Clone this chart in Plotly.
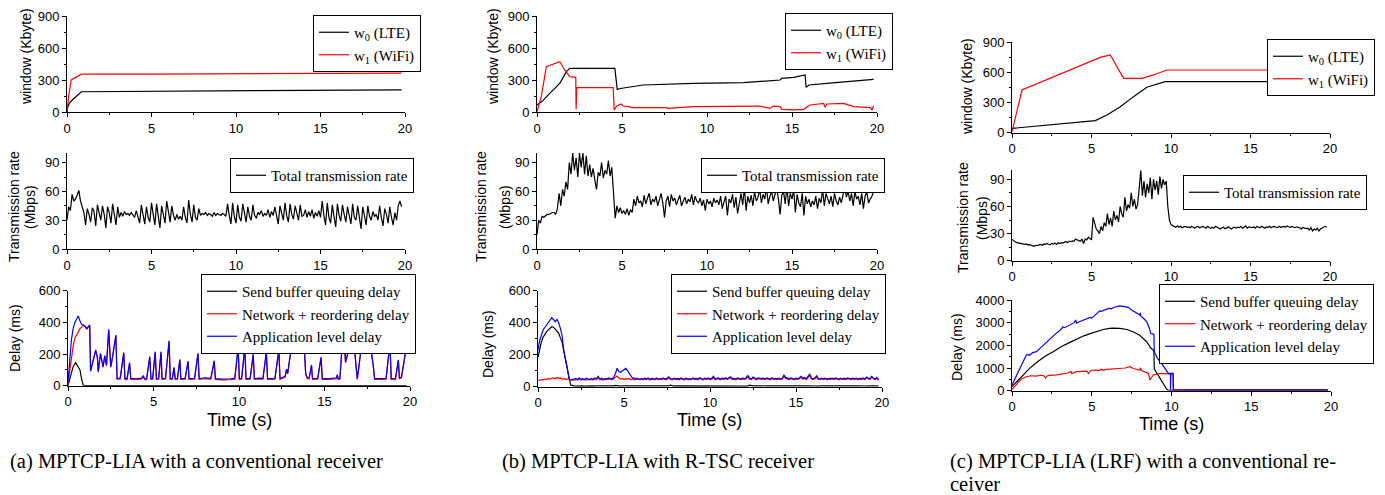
import plotly.graph_objects as go

W, H = 1385, 495

# ---------------- data ----------------
# (a) MPTCP-LIA, conventional receiver
a_w0_t = [0, 0.05, 0.15, 0.3, 0.85, 5, 10, 15, 19.8]
a_w0_v = [0, 50, 85, 110, 190, 193, 198, 204, 208]
a_w1_t = [0, 0.1, 0.25, 0.5, 0.85, 5, 10, 15, 19.8]
a_w1_v = [0, 150, 300, 325, 355, 356, 357, 360, 365]

a_rate = [30, 44, 40, 57, 50, 52, 56, 61, 50, 44, 38,
          25, 42, 36, 28, 43, 39, 24, 46, 38, 30,
          45, 36, 22, 44, 38, 27, 47, 35, 25, 44,
          33, 38, 34, 39, 36, 37, 35, 38, 36, 33,
          40, 34, 27, 46, 35, 26, 44, 33, 28, 48,
          36, 25, 47, 34, 22, 45, 37, 27, 50, 36,
          28, 45, 35, 30, 36, 31, 34, 30, 44, 33,
          27, 51, 36, 28, 46, 33, 30, 42, 35, 37,
          36, 38, 35, 37, 36, 34, 38, 35, 37, 36,
          35, 37, 36, 34, 47, 35, 26, 48, 34, 27,
          46, 33, 29, 47, 36, 28, 44, 34, 30, 46,
          35, 32, 38, 36, 40, 34, 37, 35, 41, 33,
          39, 35, 44, 33, 26, 45, 36, 30, 48, 35,
          28, 47, 36, 31, 45, 37, 30, 46, 34, 35,
          41, 33, 39, 34, 41, 32, 38, 34, 40, 33,
          50, 35, 25, 48, 33, 27, 46, 34, 23, 47,
          35, 29, 46, 36, 28, 44, 35, 26, 47, 33,
          30, 45, 33, 21, 44, 35, 25, 45, 34, 30,
          39, 34, 36, 30, 45, 33, 24, 42, 36, 27,
          44, 33, 25, 38, 30, 45, 50, 44]

a_snd_t = [0, 0.1, 0.2, 0.3, 0.45, 0.6, 0.7, 0.8, 0.9, 19.8]
a_snd_v = [0, 40, 80, 120, 145, 120, 100, 40, 0, 0]

a_d_t = [0.0, 0.1, 0.2, 0.3, 0.4, 0.5, 0.6, 0.7, 0.8, 0.9,
         1.0, 1.1, 1.2, 1.27, 1.32, 1.45, 1.62, 1.72, 1.77, 1.9,
         1.97, 2.05, 2.15, 2.25, 2.38, 2.5, 2.6, 2.8, 2.87, 3.05,
         3.26, 3.33, 3.45, 3.6, 3.67, 4.0, 4.3, 4.4, 4.5, 4.6,
         4.78, 4.85, 4.95, 5.1, 5.17, 5.3, 5.44, 5.5, 5.7, 5.91,
         5.98, 6.1, 6.2, 6.27, 6.4, 6.54, 6.6, 6.85, 7.02, 7.08,
         7.4, 7.6, 7.67, 8.0, 8.35, 8.55, 8.62, 9.0, 9.5, 9.75,
         9.95, 10.02, 10.15, 10.34, 10.41, 10.65, 10.83, 10.9, 11.2, 11.4,
         11.6, 11.67, 12.1, 12.33, 12.4, 12.7, 12.78, 12.85, 12.98, 13.33,
         13.4, 13.56, 13.66, 13.76, 13.9, 14.0, 14.1, 14.24, 14.3, 14.6,
         14.8, 14.87, 15.3, 15.7, 15.75, 15.8, 15.9, 16.1, 16.23, 16.45,
         16.68, 16.84, 16.92, 17.1, 17.27, 17.37, 17.56, 17.85, 17.93, 18.4,
         18.6, 18.83, 18.9, 19.15, 19.32, 19.38, 19.5, 19.77]
a_app_v = [20, 180, 290, 360, 400, 420, 440, 410, 385, 385,
           370, 360, 375, 385, 95, 160, 226, 180, 90, 205,
           160, 120, 190, 130, 357, 120, 180, 320, 46, 48,
           209, 46, 44, 146, 46, 44, 48, 62, 42, 46,
           184, 45, 46, 215, 45, 46, 215, 45, 47, 283,
           45, 46, 116, 45, 46, 167, 45, 46, 156, 45,
           46, 205, 45, 50, 46, 158, 45, 42, 44, 46,
           241, 45, 46, 243, 45, 46, 200, 45, 48, 46,
           215, 45, 46, 226, 45, 60, 105, 80, 184, 363,
           320, 320, 226, 353, 78, 50, 48, 131, 45, 46,
           180, 45, 45, 50, 70, 45, 46, 368, 152, 250,
           342, 131, 45, 200, 353, 240, 353, 131, 45, 45,
           46, 272, 45, 46, 163, 50, 55, 236]
a_net_v = [10, 100, 180, 250, 300, 320, 345, 360, 370, 380,
           375, 360, 372, 380, 90, 155, 220, 175, 85, 200,
           155, 115, 185, 125, 350, 115, 175, 315, 40, 42,
           204, 40, 39, 140, 40, 39, 43, 56, 37, 40,
           178, 40, 41, 210, 40, 41, 210, 40, 42, 278,
           40, 41, 110, 40, 41, 162, 40, 41, 150, 40,
           41, 200, 40, 44, 41, 152, 40, 37, 39, 41,
           236, 40, 41, 238, 40, 41, 195, 40, 43, 41,
           210, 40, 41, 220, 40, 55, 100, 75, 178, 355,
           312, 315, 220, 345, 72, 44, 43, 125, 40, 41,
           175, 40, 40, 45, 64, 40, 41, 360, 145, 245,
           335, 125, 40, 195, 345, 235, 345, 125, 40, 40,
           41, 265, 40, 41, 158, 45, 50, 230]

# (b) MPTCP-LIA, R-TSC receiver
b_w0_t = [0, 0.3, 0.75, 1.34, 1.73, 1.93, 4.58, 4.72, 4.9, 6.25, 9.2, 12.14, 14.3, 14.4,
          15.1, 15.77, 15.83, 16.0, 17.05, 19.8]
b_w0_v = [66, 100, 175, 269, 378, 409, 409, 212, 220, 253, 269, 275, 300, 315,
          325, 347, 231, 253, 269, 306]
b_w1_t = [0, 0.25, 0.55, 1.34, 1.63, 1.93, 2.28, 2.3, 2.34, 4.48, 4.54, 4.68, 4.97, 5.07,
          5.46, 5.56, 7.62, 7.7, 9.2, 13.1, 13.7, 13.9, 14.3, 14.4, 15.1, 15.7, 15.9,
          16.07, 16.86, 16.95, 17.05, 18.03, 18.62, 19.6, 19.7, 19.8]
b_w1_v = [0, 144, 425, 472, 394, 331, 325, 25, 228, 228, 19, 56, 75, 56,
          50, 41, 41, 35, 50, 56, 34, 56, 50, 25, 19, 25, 50,
          66, 81, 44, 75, 81, 50, 41, 19, 56]

b_rate = [15, 30, 27, 34, 33, 35, 36, 36, 37, 38, 38,
          36, 42, 58, 45, 62, 55, 70, 62, 90, 78,
          100, 82, 95, 75, 100, 85, 100, 78, 97, 76,
          88, 75, 84, 72, 62, 80, 76, 90, 74, 82,
          78, 92, 76, 85, 60, 32, 45, 38, 43, 37,
          40, 36, 42, 35, 41, 38, 52, 45, 55, 48,
          50, 44, 56, 47, 53, 58, 46, 52, 49, 55,
          45, 51, 58, 48, 33, 50, 55, 44, 57, 50,
          53, 46, 52, 56, 45, 50, 54, 47, 52, 49,
          57, 46, 55, 50, 48, 53, 45, 51, 40, 52,
          47, 50, 44, 53, 48, 51, 46, 55, 42, 49,
          55, 35, 52, 48, 57, 43, 54, 37, 50, 58,
          46, 64, 40, 55, 48, 56, 45, 60, 50, 54,
          62, 48, 57, 52, 65, 47, 55, 60, 50, 58,
          64, 52, 36, 56, 60, 47, 65, 45, 58, 52,
          62, 38, 57, 48, 44, 58, 35, 55, 47, 52,
          44, 50, 46, 55, 42, 53, 48, 62, 45, 58,
          52, 47, 55, 44, 58, 50, 46, 54, 48, 57,
          65, 54, 60, 50, 58, 45, 60, 52, 55, 46,
          58, 42, 55, 60, 48, 52, 55, 60]

b_snd = [183, 240, 281, 310, 330, 344, 355, 368, 375, 372, 360,
         350, 335, 305, 281, 220, 160, 125, 60, 10, 5,
         5, 4, 5, 5, 6, 5, 4, 5, 5, 4,
         5, 5, 4, 6, 5, 5, 4, 5, 6, 5,
         5, 4, 5, 5, 8, 6, 5, 4, 5, 5,
         6, 5, 4, 5, 5, 4, 5, 6, 5, 5,
         5, 4, 5, 5, 6, 5, 5, 4, 5, 5,
         4, 5, 5, 6, 5, 5, 10, 5, 4, 5,
         5, 5, 4, 6, 5, 5, 4, 5, 5, 6,
         5, 4, 5, 5, 6, 5, 4, 5, 5, 5,
         5, 6, 5, 4, 5, 5, 6, 5, 4, 5,
         5, 5, 4, 6, 5, 5, 4, 5, 6, 5,
         5, 4, 10, 6, 5, 5, 4, 5, 5, 6,
         5, 5, 4, 5, 6, 5, 5, 4, 5, 5,
         6, 5, 4, 5, 5, 6, 5, 4, 5, 5,
         5, 6, 5, 4, 5, 5, 6, 5, 4, 5,
         5, 5, 4, 6, 5, 5, 4, 5, 5, 6,
         5, 4, 5, 5, 6, 5, 4, 5, 5, 5,
         6, 5, 4, 5, 5, 6, 5, 4, 5, 5,
         5, 4, 5, 6, 5, 5, 4, 5]
b_net = [42, 40, 45, 43, 48, 46, 50, 47, 52, 55, 50,
         58, 52, 55, 48, 50, 46, 49, 45, 42, 44,
         40, 45, 43, 47, 42, 46, 44, 41, 45, 43,
         46, 42, 48, 44, 55, 43, 46, 42, 47, 44,
         45, 48, 43, 50, 62, 67, 55, 48, 52, 46,
         50, 47, 52, 45, 48, 43, 46, 49, 44, 47,
         43, 48, 45, 50, 42, 47, 45, 44, 49, 43,
         47, 44, 50, 43, 46, 55, 45, 42, 48, 45,
         47, 43, 50, 45, 42, 48, 44, 46, 43, 50,
         45, 47, 43, 51, 44, 42, 48, 45, 50, 43,
         47, 58, 44, 46, 50, 43, 48, 45, 51, 44,
         49, 56, 45, 47, 43, 50, 46, 44, 48, 45,
         51, 62, 47, 44, 54, 46, 43, 50, 47, 45,
         48, 44, 50, 46, 43, 51, 45, 47, 44, 49,
         45, 48, 64, 52, 47, 44, 50, 46, 43, 48,
         45, 51, 58, 47, 52, 44, 56, 70, 48, 45,
         50, 60, 46, 44, 49, 45, 48, 43, 47, 45,
         48, 44, 50, 46, 43, 49, 45, 47, 44, 50,
         46, 44, 48, 45, 49, 43, 47, 45, 50, 44,
         54, 47, 45, 58, 50, 43, 52, 40]
b_app = [229, 290, 323, 355, 370, 385, 400, 415, 431, 420, 406,
         421, 400, 365, 320, 229, 180, 120, 52, 42, 45,
         48, 52, 44, 55, 47, 50, 45, 53, 49, 46,
         52, 47, 55, 50, 65, 48, 53, 46, 51, 49,
         55, 50, 48, 60, 80, 115, 95, 90, 100, 104,
         115, 100, 85, 73, 52, 55, 48, 52, 46, 50,
         47, 53, 49, 55, 46, 52, 50, 48, 54, 47,
         51, 49, 55, 48, 52, 62, 50, 47, 53, 49,
         52, 48, 55, 50, 46, 53, 49, 51, 47, 55,
         50, 52, 48, 56, 49, 47, 53, 50, 55, 48,
         52, 65, 49, 51, 55, 48, 53, 50, 56, 49,
         54, 62, 50, 52, 48, 55, 51, 49, 53, 50,
         56, 70, 52, 49, 60, 51, 48, 55, 52, 50,
         53, 49, 55, 51, 48, 56, 50, 52, 49, 54,
         50, 53, 72, 58, 52, 49, 55, 51, 48, 53,
         50, 56, 65, 52, 58, 49, 62, 80, 53, 50,
         55, 68, 51, 49, 54, 50, 53, 48, 52, 50,
         53, 49, 55, 51, 48, 54, 50, 52, 49, 55,
         51, 49, 53, 50, 54, 48, 52, 50, 55, 49,
         60, 52, 50, 65, 55, 48, 58, 45]

# (c) MPTCP-LIA (LRF), conventional receiver
c_w0_t = [0, 1, 2, 3, 4, 5.24, 5.97, 6.81, 7.64, 8.48, 9.63, 19.8]
c_w0_v = [43, 58, 74, 90, 104, 120, 176, 259, 359, 452, 508, 508]
c_w1_t = [0, 0.63, 5.55, 6.18, 7.02, 8.17, 8.9, 9.74, 19.8]
c_w1_v = [10, 425, 750, 774, 541, 541, 575, 624, 624]

c_rate = [23.6, 22, 21, 20, 19.5, 19, 18.5, 18.4, 18, 18.5, 17.5,
          17.8, 17, 16.5, 16, 17, 16.8, 17.5, 18, 17, 18.5,
          18, 19, 18.2, 17.5, 19, 18.5, 19.5, 18, 19.8, 19,
          20, 19.5, 20.5, 21, 20, 21.5, 21, 22, 21.5, 24,
          23, 22, 21.5, 24, 19, 24, 23, 26, 24.5, 23,
          48, 40, 35, 33, 30, 38, 33, 42, 38, 52,
          40, 47, 38, 55, 45, 50, 43, 60, 52, 48,
          70, 55, 62, 58, 75, 60, 68, 57, 62, 80,
          100, 72, 88, 70, 85, 75, 92, 68, 90, 78,
          88, 73, 93, 80, 90, 84, 88, 60, 45, 40,
          39, 38, 37, 38.5, 37, 38, 36.5, 37.5, 38, 37,
          37.5, 36.5, 38, 37, 36, 37.5, 38, 36.5, 37, 38,
          37, 36, 38, 36.5, 35.5, 37, 36, 38, 37, 36,
          35, 36.5, 37, 35.5, 36, 37.5, 36, 35, 36.5, 37,
          36, 37, 36.5, 38, 36, 37, 38.5, 36, 37.5, 37,
          36.5, 37.5, 36, 38, 37, 36.5, 38, 37, 36, 37.5,
          37, 38, 36.5, 37.5, 38, 37, 36.5, 38, 37, 37.5,
          38, 37, 38.5, 37.5, 37, 38, 37, 36.5, 37.5, 37,
          36.5, 35, 37, 36, 35.5, 36, 34, 36.5, 33, 35,
          34, 36, 33, 35, 36, 37, 38, 37]

c_snd_t = [0, 0.5, 1.1, 1.6, 2.1, 2.58, 3.1, 3.6, 4.04, 4.5, 5.0, 5.5, 5.72, 6.0, 6.3,
           6.76, 7.2, 7.6, 8.0, 8.44, 8.7, 8.86, 8.9, 8.92, 9.2, 9.5, 9.7, 9.8, 12, 15, 19.8]
c_snd_v = [176, 560, 985, 1280, 1530, 1720, 1950, 2120, 2260, 2420, 2540, 2660, 2700, 2740, 2760,
           2749, 2700, 2602, 2450, 2161, 1880, 1793, 1700, 960, 620, 300, 59, 20, 20, 20, 20]
c_net_t = [0, 0.3, 0.6, 0.9, 1.2, 1.53, 1.8, 2.0, 2.1, 2.2, 2.37, 2.8, 3.2, 3.5, 3.7, 3.75,
           4.04, 4.5, 4.7, 4.8, 4.9, 5.09, 5.5, 5.6, 5.7, 5.93, 6.3, 6.76, 7.1, 7.39, 7.6,
           8.02, 8.05, 8.1, 8.4, 8.55, 8.65, 8.75, 8.86, 9.28, 9.8, 10.1, 10.12, 12, 15, 19.8]
c_net_v = [59, 300, 520, 617, 660, 647, 680, 660, 560, 650, 680, 700, 760, 780, 850, 760,
           838, 850, 860, 760, 870, 911, 900, 960, 900, 941, 960, 985, 1000, 1058, 980,
           911, 1010, 900, 820, 764, 470, 600, 691, 764, 764, 735, 40, 45, 40, 42]
c_app_t = [0, 0.3, 0.6, 0.9, 1.0, 1.1, 1.3, 1.53, 1.8, 2.16, 2.5, 2.8, 3.0, 3.2, 3.3, 3.6,
           3.9, 4.0, 4.04, 4.3, 4.6, 4.9, 5.0, 5.3, 5.5, 5.6, 5.9, 6.1, 6.2, 6.4, 6.76, 7.0,
           7.29, 7.5, 7.8, 8.02, 8.05, 8.07, 8.3, 8.44, 8.6, 8.7, 8.88, 8.9, 8.92, 9.1, 9.38,
           9.6, 9.8, 9.93, 9.94, 9.96, 10.1, 10.11, 12, 15, 19.8]
c_app_v = [250, 700, 1150, 1573, 1600, 1560, 1680, 1720, 1900, 2150, 2380, 2550, 2650, 2820, 2780, 2900,
           3000, 3120, 2980, 3060, 3150, 3230, 3200, 3400, 3520, 3500, 3600, 3640, 3600, 3680, 3740, 3700,
           3675, 3560, 3420, 3337, 3430, 3300, 3150, 3050, 2780, 2520, 2499, 2450, 1720, 1450, 1205,
           950, 764, 764, 30, 764, 764, 30, 35, 32, 35]

# ---------------- styling helpers ----------------
BLACK, RED, BLUE = "#000000", "#ff0000", "#0000ff"
SANS = "Liberation Sans, Arial, sans-serif"
SERIF = "Liberation Serif, Times New Roman, serif"


def steps(vals):
    return [round(i * 0.1, 2) for i in range(len(vals))]


# panel: x px domain, y px domain (top, bottom), y range, dtick, minor dtick
panels = [
    ((67, 405), (16, 112), 900, 300, 150),
    ((67, 405), (153, 249), 100, 30, 15),
    ((68, 410), (290.7, 385.7), 600, 200, 100),
    ((537, 877), (16, 112), 900, 300, 150),
    ((537, 877), (153, 249), 100, 30, 15),
    ((538, 882), (290.7, 386.7), 600, 200, 100),
    ((1012, 1330), (42.3, 132.7), 900, 300, 150),
    ((1012, 1330), (170.3, 260.7), 100, 30, 15),
    ((1012, 1331), (300, 390.7), 4000, 1000, 500),
]

legend_boxes = [(313, 15), (230, 158), (201, 274),
                (785, 13), (701, 158), (671, 274),
                (1267, 39), (1183, 175), (1159, 284)]

fig = go.Figure()


def add(k, x, y, name, color):
    sfx = "" if k == 1 else str(k)
    fig.add_trace(go.Scatter(
        x=x, y=y, mode="lines", name=name,
        line=dict(color=color, width=1.2),
        xaxis="x" + sfx, yaxis="y" + sfx,
        legend="legend" + sfx, showlegend=True, hoverinfo="skip"))


W0, W1 = "w<sub>0</sub> (LTE)", "w<sub>1</sub> (WiFi)"
TR = "Total transmission rate"
SB, NR, AL = "Send buffer queuing delay", "Network + reordering delay", "Application level delay"

add(1, a_w0_t, a_w0_v, W0, BLACK)
add(1, a_w1_t, a_w1_v, W1, RED)
add(2, steps(a_rate), a_rate, TR, BLACK)
add(3, a_snd_t, a_snd_v, SB, BLACK)
add(3, a_d_t, a_net_v, NR, RED)
add(3, a_d_t, a_app_v, AL, BLUE)

add(4, b_w0_t, b_w0_v, W0, BLACK)
add(4, b_w1_t, b_w1_v, W1, RED)
add(5, steps(b_rate), b_rate, TR, BLACK)
add(6, steps(b_snd), b_snd, SB, BLACK)
add(6, steps(b_net), b_net, NR, RED)
add(6, steps(b_app), b_app, AL, BLUE)

add(7, c_w0_t, c_w0_v, W0, BLACK)
add(7, c_w1_t, c_w1_v, W1, RED)
add(8, steps(c_rate), c_rate, TR, BLACK)
add(9, c_snd_t, c_snd_v, SB, BLACK)
add(9, c_net_t, c_net_v, NR, RED)
add(9, c_app_t, c_app_v, AL, BLUE)

layout = dict(
    width=W, height=H, margin=dict(l=0, r=0, t=0, b=0),
    paper_bgcolor="white", plot_bgcolor="white", template="none",
    font=dict(family=SANS, color="black"),
    annotations=[],
)

for k, ((x0, x1), (yt, yb), ymax, dt, mdt) in enumerate(panels, start=1):
    sfx = "" if k == 1 else str(k)
    common = dict(showline=True, linecolor="black", linewidth=1, ticks="outside",
                  ticklen=4, tickwidth=1, tickcolor="black", showgrid=False,
                  zeroline=False, fixedrange=True, mirror=False,
                  tickfont=dict(family=SANS, size=13, color="black"))
    layout["xaxis" + sfx] = dict(domain=[x0 / W, x1 / W], range=[0, 20], tick0=0, dtick=5,
                                 anchor="y" + sfx,
                                 minor=dict(ticks="outside", ticklen=2, dtick=2.5,
                                            tickcolor="black", showgrid=False),
                                 **common)
    layout["yaxis" + sfx] = dict(domain=[1 - yb / H, 1 - yt / H], range=[0, ymax], tick0=0,
                                 dtick=dt, anchor="x" + sfx,
                                 minor=dict(ticks="outside", ticklen=2, dtick=mdt,
                                            tickcolor="black", showgrid=False),
                                 **common)
    lx, ly = legend_boxes[k - 1]
    layout["legend" + sfx] = dict(x=lx / W, y=1 - ly / H, xanchor="left", yanchor="top",
                                  bgcolor="white", bordercolor="black", borderwidth=1,
                                  font=dict(family=SERIF, size=15, color="black"),
                                  tracegroupgap=0, itemwidth=30, traceorder="normal")

fig.update_layout(**layout)


def ann(text, x, y, size, family=SANS, angle=0, xanchor="center"):
    fig.add_annotation(text=text, x=x / W, y=1 - y / H, xref="paper", yref="paper",
                       showarrow=False, textangle=angle, xanchor=xanchor, yanchor="middle",
                       font=dict(family=family, size=size, color="black"))


# y-axis titles
for cx, cy in [(26, 57), (493, 57), (967, 87)]:
    ann("window (Kbyte)", cx, cy, 14, angle=-90)
for cx1, cx2, cy in [(14, 30, 207), (481, 505, 207), (963, 982, 218)]:
    ann("Transmission rate", cx1, cy, 14, angle=-90)
    ann("(Mbps)", cx2, cy, 14, angle=-90)
for cx, cy in [(15, 338), (488, 344), (957, 347)]:
    ann("Delay (ms)", cx, cy, 14, angle=-90)

# x-axis titles
for cx, cy in [(239, 420), (710, 420), (1171, 424)]:
    ann("Time (s)", cx, cy, 18)

# captions
CAP = 20.5
ann("(a) MPTCP-LIA with a conventional receiver", 8, 461, CAP, family=SERIF, xanchor="left")
ann("(b) MPTCP-LIA with R-TSC receiver", 500, 461, CAP, family=SERIF, xanchor="left")
ann("(c) MPTCP-LIA (LRF) with a conventional re-", 948, 461, CAP, family=SERIF, xanchor="left")
ann("ceiver", 948, 484, CAP, family=SERIF, xanchor="left")

fig.write_html("out.html",
               config={"displayModeBar": False},
               post_script="document.body.style.margin='0';document.body.style.overflow='hidden';")
